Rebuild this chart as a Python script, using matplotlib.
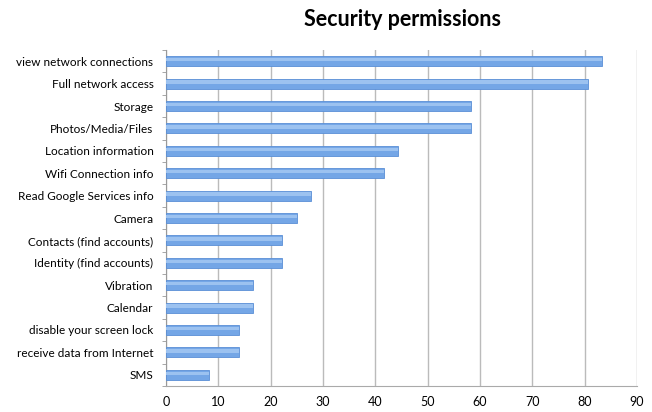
import matplotlib
matplotlib.use("Agg")
import matplotlib.pyplot as plt
import numpy as np

categories = [
    "view network connections",
    "Full network access",
    "Storage",
    "Photos/Media/Files",
    "Location information",
    "Wifi Connection info",
    "Read Google Services info",
    "Camera",
    "Contacts (find accounts)",
    "Identity (find accounts)",
    "Vibration",
    "Calendar",
    "disable your screen lock",
    "receive data from Internet",
    "SMS",
]
values = [83.3, 80.6, 58.3, 58.3, 44.4, 41.7, 27.8, 25.0, 22.2, 22.2, 16.7, 16.7, 13.9, 13.9, 8.3]
xticks = [0, 10, 20, 30, 40, 50, 60, 70, 80, 90]

plt.rcParams['font.family'] = ['Lato', 'DejaVu Sans']

fig = plt.figure(figsize=(6.52, 4.12), dpi=100)
ax = fig.add_axes([166/652, 1-386/412, (637-166)/652, (386-50)/412])

n = len(categories)
y = np.arange(n)[::-1]
ax.barh(y, values, height=0.45, color='#74a6e6', edgecolor='#5a8fd6', linewidth=0.6, zorder=3)
# light highlight on top half of bars
ax.barh(y + 0.07, values, height=0.15, color='#9cc2f0', linewidth=0, zorder=4)

ax.set_xlim(0, 90)
ax.set_ylim(-0.5, n - 0.5)
ax.set_xticks(xticks)
ax.set_xticklabels([str(t) for t in xticks], fontsize=9)
ax.set_yticks(y)
ax.set_yticklabels(categories, fontsize=8.5)
ax.set_yticks(np.arange(n + 1) - 0.5, minor=True)
ax.tick_params(axis='y', which='major', length=0, pad=9)
ax.tick_params(axis='y', which='minor', length=3, color='#999999')
ax.tick_params(axis='x', length=0, pad=7)

ax.grid(axis='x', color='#bbbbbb', linewidth=1, zorder=0)
for s in ['top', 'right']:
    ax.spines[s].set_visible(False)
ax.spines['left'].set_color('#999999')
ax.spines['bottom'].set_color('#aaaaaa')

fig.text(403/652, 1-20/412, "Security permissions", ha='center', va='center',
         fontsize=15.5, fontweight='bold')

fig.savefig("out.png", dpi=100)
